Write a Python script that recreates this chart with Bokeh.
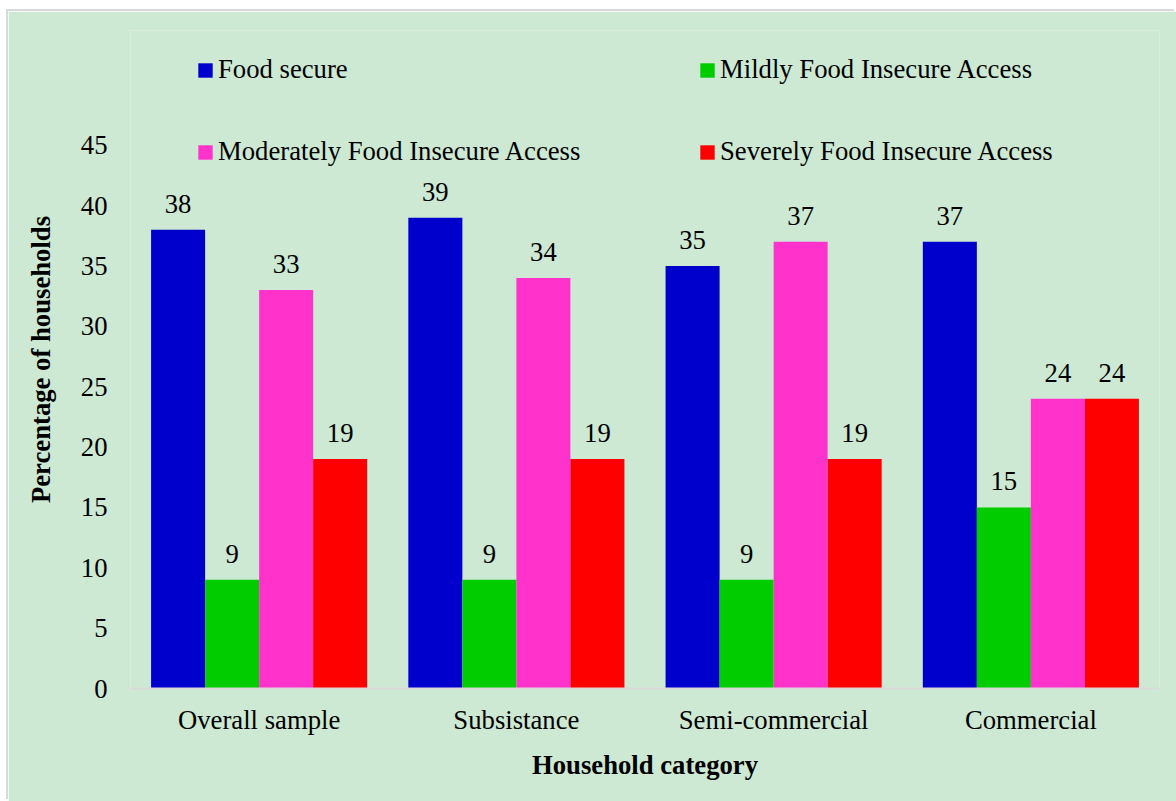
from bokeh.plotting import figure
from bokeh.models import (ColumnDataSource, FactorRange, FixedTicker, Legend, LegendItem, Range1d)
from bokeh.transform import dodge
from bokeh.core.properties import value
from bokeh.embed import file_html
from bokeh.resources import INLINE

categories = ["Overall sample", "Subsistance", "Semi-commercial", "Commercial"]
series_names = ["Food secure", "Mildly Food Insecure Access",
                "Moderately Food Insecure Access", "Severely Food Insecure Access"]
food_secure = [38, 39, 35, 37]
mildly = [9, 9, 9, 15]
moderately = [33, 34, 37, 24]
severely = [19, 19, 19, 24]
y_ticks = [0, 5, 10, 15, 20, 25, 30, 35, 40, 45]

colors = ["#0000CC", "#00CC00", "#FF33CC", "#FF0000"]
series_values = [food_secure, mildly, moderately, severely]
offsets = [-0.315, -0.105, 0.105, 0.315]
bar_w = 0.21

FONT = "Times New Roman"
FS = "26.7px"
BG = "#CDE8D3"

data = {"cat": categories}
keys = ["s0", "s1", "s2", "s3"]
for k, vals in zip(keys, series_values):
    data[k] = vals
    data[k + "_lbl"] = [str(v) for v in vals]
source = ColumnDataSource(data)

p = figure(x_range=FactorRange(*categories), y_range=Range1d(0, 54.5),
           width=1168, height=790, output_backend="svg", toolbar_location=None,
           min_border_left=122, min_border_right=17, min_border_top=19, min_border_bottom=113)
p.margin = (11, 0, 0, 8)
p.styles = {"box-shadow": "-2px -2px 0 0 #D9D9D9"}
p.background_fill_color = BG
p.border_fill_color = BG
p.outline_line_color = None
p.xgrid.grid_line_color = None
p.ygrid.grid_line_color = None
p.x_range.range_padding = 0

renderers = []
for k, c, off in zip(keys, colors, offsets):
    r = p.vbar(x=dodge("cat", off, range=p.x_range), top=k, width=bar_w, source=source,
               fill_color=c, line_color=None)
    renderers.append(r)
    p.text(x=dodge("cat", off, range=p.x_range), y=k, text=k + "_lbl", source=source,
           text_align="center", text_baseline="alphabetic", y_offset=-26,
           text_font=value(FONT), text_font_style="normal",
           text_font_size=FS, text_color="#000000")

# Axes
p.yaxis.ticker = FixedTicker(ticks=y_ticks)
p.yaxis.axis_line_color = None
p.yaxis.major_tick_line_color = None
p.yaxis.minor_tick_line_color = None
p.yaxis.major_label_standoff = 17
p.yaxis.axis_label = "Percentage of households"
p.yaxis.axis_label_standoff = 22

p.xaxis.axis_line_color = "#D9D9D9"
p.xaxis.axis_line_width = 2
p.xaxis.major_tick_line_color = None
p.xaxis.minor_tick_line_color = None
p.xaxis.major_label_standoff = 10
p.xaxis.axis_label = "Household category"
p.xaxis.axis_label_standoff = 12

for ax in (p.xaxis, p.yaxis):
    ax.major_label_text_font = FONT
    ax.major_label_text_font_size = FS
    ax.major_label_text_color = "#000000"
    ax.axis_label_text_font = FONT
    ax.axis_label_text_font_size = FS
    ax.axis_label_text_font_style = "bold"
    ax.axis_label_text_color = "#000000"

def make_legend(idx, loc):
    lg = Legend(items=[LegendItem(label=series_names[i], renderers=[renderers[i]]) for i in idx],
                location=loc, orientation="horizontal",
                glyph_width=18, glyph_height=18, label_standoff=4, label_width=470,
                label_height=30, spacing=10, padding=0, margin=0,
                border_line_color=None, background_fill_alpha=0,
                label_text_font=FONT, label_text_font_style="normal",
                label_text_font_size=FS, label_text_color="#000000")
    return lg

p.add_layout(make_legend([0, 1], (66, 603)))
p.add_layout(make_legend([2, 3], (66, 521)))

open("out.html", "w").write(file_html(p, INLINE))
